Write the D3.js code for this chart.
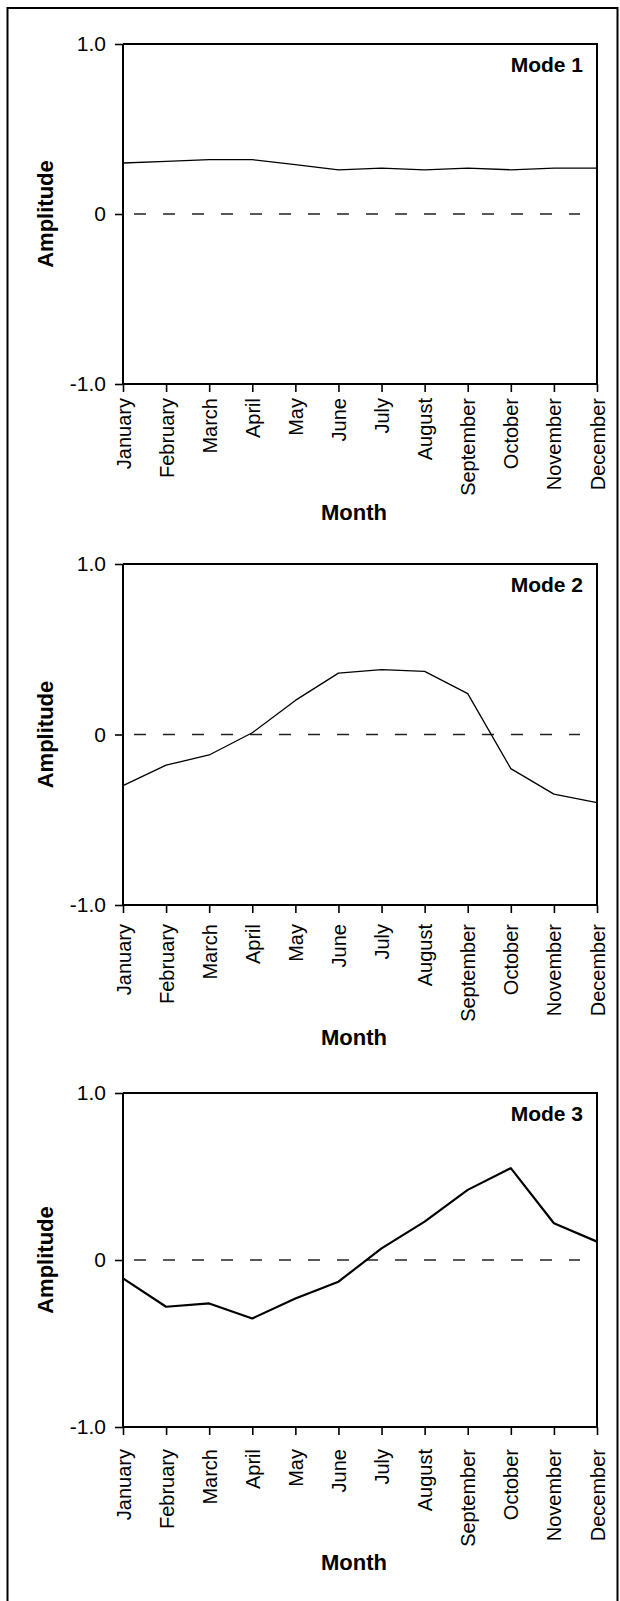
<!DOCTYPE html>
<html>
<head>
<meta charset="utf-8">
<script src="https://cdn.jsdelivr.net/npm/d3@7"></script>
<style>
  html, body { margin: 0; padding: 0; background: #fff; }
  svg { display: block; }
  text { font-family: "Liberation Sans", Arial, sans-serif; fill: #000; }
</style>
</head>
<body>
<svg id="chart" width="620" height="1601"></svg>
<script>
// ---- data ----
const months = ["January","February","March","April","May","June","July","August","September","October","November","December"];
const mode1 = [0.30, 0.31, 0.32, 0.32, 0.29, 0.26, 0.27, 0.26, 0.27, 0.26, 0.27, 0.27];
const mode2 = [-0.30, -0.18, -0.12, 0.01, 0.20, 0.36, 0.38, 0.37, 0.24, -0.20, -0.35, -0.40];
const mode3 = [-0.11, -0.28, -0.26, -0.35, -0.23, -0.13, 0.07, 0.23, 0.42, 0.55, 0.22, 0.11];
const modeNames = ["Mode 1", "Mode 2", "Mode 3"];
const yTickValues = [-1, 0, 1];
const yTickLabels = ["-1.0", "0", "1.0"];
const xTitle = "Month";
const yTitle = "Amplitude";

// ---- layout ----
const svg = d3.select("#chart");
const left = 123, right = 597;
const panels = [
  { name: modeNames[0], values: mode1, top: 44,   bottom: 384,  titleY: 520,  lblGap: 14, lw: 1.3 },
  { name: modeNames[1], values: mode2, top: 564,  bottom: 905,  titleY: 1045, lblGap: 19, lw: 1.3 },
  { name: modeNames[2], values: mode3, top: 1093, bottom: 1427, titleY: 1570, lblGap: 22, lw: 2.2 }
];

// outer frame
svg.append("path")
  .attr("d", "M7.5,1605 L7.5,8 L617.5,8 L617.5,1605")
  .attr("fill", "none").attr("stroke", "#000").attr("stroke-width", 2);

const x = d3.scalePoint().domain(months).range([left, right]);

panels.forEach(p => {
  const y = d3.scaleLinear().domain([-1, 1]).range([p.bottom, p.top]);
  const g = svg.append("g");

  // zero dashed line
  g.append("line")
    .attr("x1", left).attr("x2", 580)
    .attr("y1", y(0)).attr("y2", y(0))
    .attr("stroke", "#222").attr("stroke-width", 1.4)
    .attr("stroke-dasharray", "12,17").attr("stroke-dashoffset", 18);

  // box top and right
  g.append("path")
    .attr("d", `M${left},${p.top} L${right},${p.top} L${right},${p.bottom}`)
    .attr("fill", "none").attr("stroke", "#000").attr("stroke-width", 2);

  // y axis
  const yAxis = d3.axisLeft(y).tickValues(yTickValues)
    .tickFormat((d, i) => yTickLabels[i]).tickSize(8).tickPadding(9);
  const ya = g.append("g").attr("transform", `translate(${left},0)`).call(yAxis);
  ya.select(".domain").attr("stroke-width", 2).attr("d", `M0,${p.top}V${p.bottom}`);
  ya.selectAll(".tick line").attr("stroke-width", 1.6);
  ya.selectAll(".tick text").attr("font-size", 21)
    .attr("font-family", "Liberation Sans, Arial, sans-serif");

  // x axis
  const xAxis = d3.axisBottom(x).tickSize(8).tickSizeOuter(0);
  const xa = g.append("g").attr("transform", `translate(0,${p.bottom})`).call(xAxis);
  xa.select(".domain").attr("stroke-width", 2).attr("d", `M${left},0H${right}`);
  xa.selectAll(".tick line").attr("stroke-width", 1.6);
  xa.selectAll(".tick text")
    .attr("font-size", 20)
    .attr("font-family", "Liberation Sans, Arial, sans-serif")
    .attr("text-anchor", "end")
    .attr("transform", "rotate(-90)")
    .attr("x", -p.lblGap)
    .attr("y", 0)
    .attr("dy", "0.35em");

  // line
  const line = d3.line().x((d, i) => x(months[i])).y(d => y(d));
  g.append("path").datum(p.values)
    .attr("d", line)
    .attr("fill", "none").attr("stroke", "#000")
    .attr("stroke-width", p.lw).attr("stroke-linejoin", "round");

  // mode label
  g.append("text")
    .attr("x", 583).attr("y", p.top + 28)
    .attr("text-anchor", "end")
    .attr("font-size", 21).attr("font-weight", "bold")
    .text(p.name);

  // axis titles
  g.append("text")
    .attr("transform", `translate(53,${y(0)}) rotate(-90)`)
    .attr("text-anchor", "middle")
    .attr("font-size", 22).attr("font-weight", "bold")
    .text(yTitle);

  g.append("text")
    .attr("x", (left + right) / 2 - 6).attr("y", p.titleY)
    .attr("text-anchor", "middle")
    .attr("font-size", 22).attr("font-weight", "bold")
    .text(xTitle);
});
</script>
</body>
</html>
